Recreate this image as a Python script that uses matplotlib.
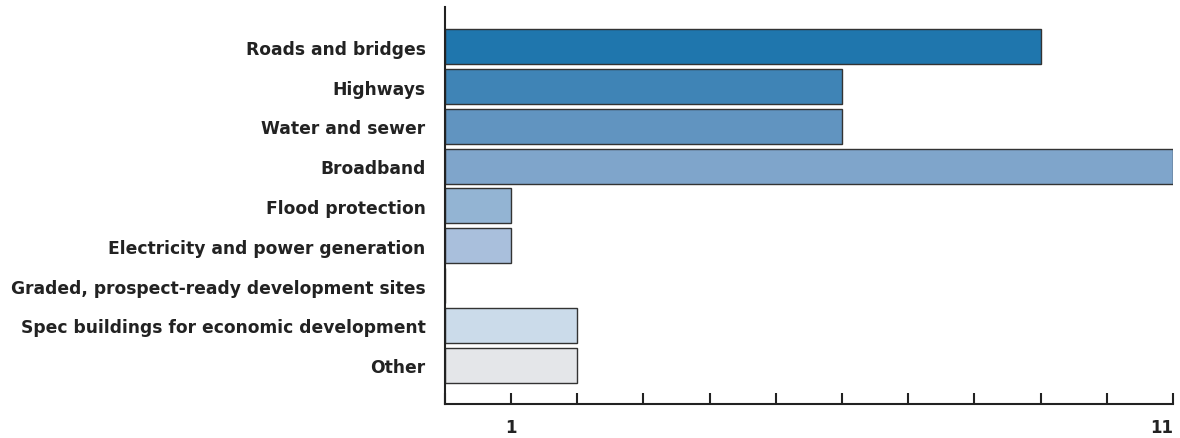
import matplotlib
matplotlib.use("Agg")
import matplotlib.pyplot as plt

plt.rcParams['font.family'] = ['DejaVu Sans']

categories = ["Roads and bridges", "Highways", "Water and sewer", "Broadband",
              "Flood protection", "Electricity and power generation",
              "Graded, prospect-ready development sites",
              "Spec buildings for economic development", "Other"]
values = [9, 6, 6, 11, 1, 1, 0, 2, 2]
colors = ["#1f76ad", "#3f84b6", "#6194c0", "#7fa5cb", "#93b4d3",
          "#a9bfdc", "#bccde3", "#cbdbea", "#e4e6e9"]
tick_labels = {1: "1", 11: "11"}

fig = plt.figure(figsize=(11.8, 4.39), dpi=100)
ax = fig.add_axes([0.377, 0.077, 0.617, 0.905])

ypos = list(range(len(categories)))
ax.barh(ypos, values, height=0.88, color=colors, edgecolor="#333333", linewidth=1.0)

ax.set_ylim(8.98, -1.0)
ax.set_xlim(0, 11)
ax.set_yticks(ypos)
ax.set_yticklabels(categories, fontsize=12.3, fontweight="bold", color="#222222")
ax.tick_params(axis="y", length=0, pad=14)

ax.set_xticks(range(0, 12))
ax.set_xticklabels([tick_labels.get(i, "") for i in range(0, 12)],
                   fontsize=12, fontweight="bold", color="#222222")
ax.tick_params(axis="x", direction="in", length=8, width=1.5, color="#222222", pad=10)
ax.get_xticklabels()[-1].set_horizontalalignment("right")

for s in ["top", "right"]:
    ax.spines[s].set_visible(False)
for s in ["left", "bottom"]:
    ax.spines[s].set_linewidth(1.5)
    ax.spines[s].set_color("#222222")

fig.savefig("out.png", dpi=100)
